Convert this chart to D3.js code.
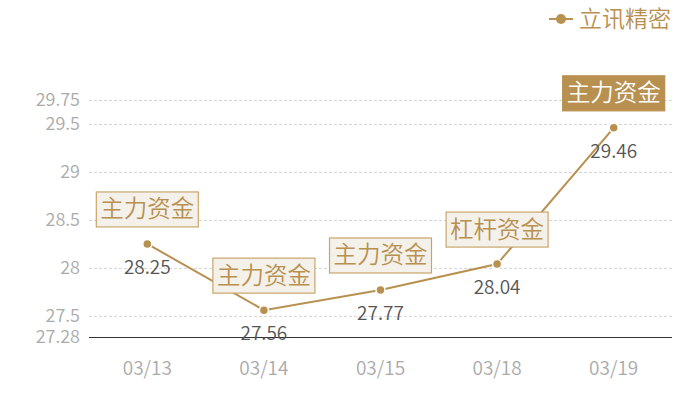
<!DOCTYPE html>
<html>
<head>
<meta charset="utf-8">
<script src="https://cdn.jsdelivr.net/npm/d3@7"></script>
<style>
  body { margin: 0; background: #fff; }
  text { font-family: "Noto Sans CJK SC", "Open Sans", sans-serif; font-weight: 350; }
</style>
</head>
<body>
<div id="chart"></div>
<script>
const dates = ["03/13", "03/14", "03/15", "03/18", "03/19"];
const prices = [28.25, 27.56, 27.77, 28.04, 29.46];
const flags = ["主力资金", "主力资金", "主力资金", "杠杆资金", "主力资金"];
const yTicks = [27.28, 27.5, 28, 28.5, 29, 29.5, 29.75];
const seriesName = "立讯精密";

const WIDTH = 700, HEIGHT = 400;
const MARGIN = { TOP: 100, RIGHT: 28, BOTTOM: 63, LEFT: 89 };
const INNER_WIDTH = WIDTH - MARGIN.LEFT - MARGIN.RIGHT,
    INNER_HEIGHT = HEIGHT - MARGIN.TOP - MARGIN.BOTTOM;
const GOLD = "#b8904f";

const svg = d3.select("#chart").append("svg")
    .attr("width", WIDTH)
    .attr("height", HEIGHT);

const g = svg.append("g")
    .attr("transform", `translate(${MARGIN.LEFT}, ${MARGIN.TOP})`);

// Scales
const xScale = d3.scaleBand()
    .domain(dates)
    .range([0, INNER_WIDTH]);
const yScale = d3.scaleLinear()
    .domain([27.28, 29.75])
    .range([INNER_HEIGHT, 0]);

const data = dates.map((d, i) => ({ date: d, value: prices[i], flag: flags[i], last: i === dates.length - 1 }));
const cx = d => xScale(d.date) + xScale.bandwidth() / 2;

// Grid + y axis
const yAxis = g.append("g")
    .call(d3.axisLeft(yScale).tickValues(yTicks).tickSize(-INNER_WIDTH).tickPadding(9).tickFormat(d => d));
yAxis.select(".domain").remove();
yAxis.selectAll(".tick line")
    .attr("stroke", d => d === yTicks[0] ? "#333" : "#d4d4d4")
    .attr("stroke-dasharray", d => d === yTicks[0] ? null : "3,2");
yAxis.selectAll(".tick text")
    .attr("fill", "#aaa")
    .style("font-size", "18px");

// x axis
const xAxis = g.append("g")
    .attr("transform", `translate(0, ${INNER_HEIGHT})`)
    .call(d3.axisBottom(xScale).tickSize(0).tickPadding(25));
xAxis.select(".domain").remove();
xAxis.selectAll("text")
    .attr("fill", "#aaa")
    .style("font-size", "19px");

// Line
const line = d3.line()
    .x(cx)
    .y(d => yScale(d.value));

g.append("path")
    .datum(data)
    .attr("fill", "none")
    .attr("stroke", GOLD)
    .attr("stroke-width", 2)
    .attr("d", line);

g.selectAll(".dot")
    .data(data)
    .join("circle")
    .attr("class", "dot")
    .attr("cx", cx)
    .attr("cy", d => yScale(d.value))
    .attr("r", 4.5)
    .attr("fill", GOLD)
    .attr("stroke", "#fff")
    .attr("stroke-width", 1.5);

// Value labels
g.selectAll(".val")
    .data(data)
    .join("text")
    .attr("class", "val")
    .attr("x", cx)
    .attr("y", d => yScale(d.value) + 30)
    .attr("text-anchor", "middle")
    .attr("fill", "#555")
    .style("font-size", "19px")
    .text(d => d.value.toFixed(2));

// Flag boxes above points
const flag = g.selectAll(".flag")
    .data(data)
    .join("g")
    .attr("class", "flag")
    .attr("transform", d => `translate(${cx(d)}, ${yScale(d.value) - 35})`);

flag.append("rect")
    .attr("x", -51)
    .attr("y", -17)
    .attr("width", 102)
    .attr("height", 35)
    .attr("fill", d => d.last ? GOLD : "#f4f0ea")
    .attr("stroke", d => d.last ? GOLD : "#c9a56b")
    .attr("stroke-width", 1.2);

flag.append("text")
    .attr("text-anchor", "middle")
    .attr("dy", "0.36em")
    .attr("fill", d => d.last ? "#fff" : GOLD)
    .style("font-size", "23.5px")
    .text(d => d.flag);

// Legend
const legend = svg.append("g").attr("transform", "translate(549, 19)");
legend.append("line")
    .attr("x1", 0).attr("x2", 24)
    .attr("stroke", GOLD).attr("stroke-width", 2);
legend.append("circle")
    .attr("cx", 12).attr("r", 5)
    .attr("fill", GOLD);
legend.append("text")
    .attr("x", 30)
    .attr("dy", "0.36em")
    .attr("fill", GOLD)
    .style("font-size", "23px")
    .text(seriesName);
</script>
</body>
</html>
